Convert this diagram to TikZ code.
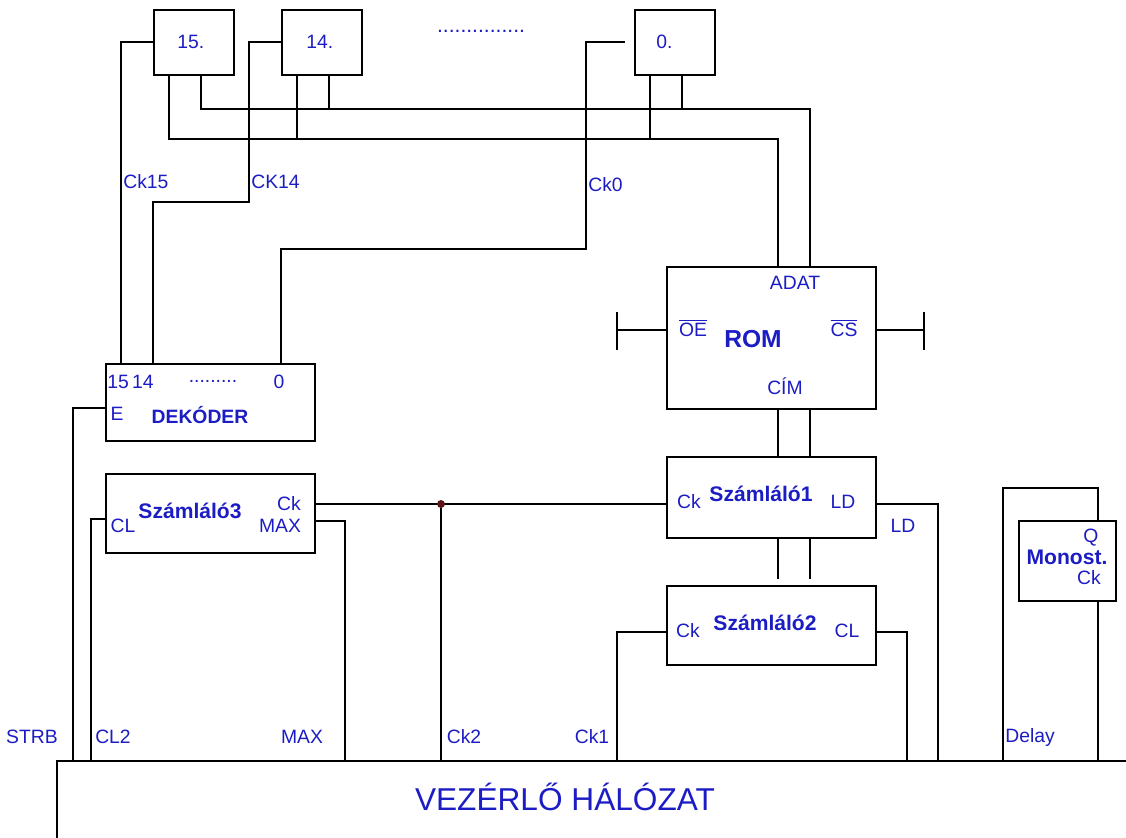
\documentclass[tikz,border=0pt]{standalone}
\usepackage{fontspec}
\setmainfont{Liberation Sans}
\usetikzlibrary{calc}
\definecolor{sigblue}{RGB}{28,28,196}
\definecolor{junct}{RGB}{90,20,20}
\tikzset{
  blkbox/.style={draw=black, line width=1pt, anchor=north west, inner sep=0pt},
  regbox/.style={blkbox, minimum width=1.6cm, minimum height=1.3cm},
  widebox/.style={blkbox, minimum width=4.18cm},
  wire/.style={line width=1pt},
  pinlbl/.style={text=sigblue, font=\fontsize{11}{12}\selectfont, inner sep=0pt},
  boxtitle/.style={text=sigblue, font=\bfseries\fontsize{12}{14}\selectfont, inner sep=0pt},
  dot/.style={circle, fill=junct, inner sep=1.6pt},
  smalldot/.style={circle, fill=black, inner sep=0.8pt}
}

\begin{document}
\begin{tikzpicture}[x=0.02cm, y=-0.02cm]
  \useasboundingbox (0,0) rectangle (1126,838);

  \node[regbox] (reg15) at (153,9) {};
  \node[regbox] (reg14) at (281,9) {};
  \node[regbox] (reg0) at (634,9) {};
  \node[pinlbl, anchor=west] (n15) at (177,42) {15.};
  \node[pinlbl, anchor=west] (n14) at (306,42) {14.};
  \node[pinlbl, anchor=west] (n0) at (656,42) {0.};
  \node[pinlbl, font=\fontsize{12}{12}\selectfont] (regdots) at (481,31) {...............};

  \node[widebox, minimum height=2.84cm] (rom) at (666,266) {};
  \node[pinlbl] (adat) at (795,283) {ADAT};
  \node[pinlbl] (oe) at (693,328) {$\overline{\mbox{OE}}$};
  \node[pinlbl] (cs) at (844,328) {$\overline{\mbox{CS}}$};
  \node[boxtitle, font=\bfseries\fontsize{14}{16}\selectfont] (romtxt) at (753,339) {ROM};
  \node[pinlbl] (cim) at (785,386) {CÍM};

  \node[widebox, minimum height=1.54cm] (dek) at (105,363) {};
  \node[pinlbl, anchor=west] (d1514) at (107,382) {15\,14};
  \node[pinlbl] (ddots) at (213,381) {.........};
  \node[pinlbl] (d0) at (279,382) {0};
  \node[pinlbl] (de) at (117,414) {E};
  \node[boxtitle, font=\bfseries\fontsize{11}{13}\selectfont] (dektxt) at (200,415) {DEKÓDER};

  \node[widebox, minimum height=1.58cm] (szam3) at (105,473) {};
  \node[boxtitle] (s3txt) at (190,511) {Számláló3};
  \node[pinlbl] (s3cklbl) at (289,504) {Ck};
  \node[pinlbl] (s3maxlbl) at (280,526) {MAX};
  \node[pinlbl] (s3cllbl) at (123,526) {CL};

  \node[widebox, minimum height=1.62cm] (szam1) at (666,456) {};
  \node[pinlbl] (s1cklbl) at (689,502) {Ck};
  \node[boxtitle] (s1txt) at (761,494) {Számláló1};
  \node[pinlbl] (s1ldlbl) at (843,502) {LD};

  \node[widebox, minimum height=1.58cm] (szam2) at (666,585) {};
  \node[pinlbl] (s2cklbl) at (688,631) {Ck};
  \node[boxtitle] (s2txt) at (765,623) {Számláló2};
  \node[pinlbl] (s2cllbl) at (847,631) {CL};

  \node[blkbox, minimum width=1.94cm, minimum height=1.6cm] (mono) at (1018,520) {};
  \node[pinlbl] (mq) at (1091,538) {Q};
  \node[boxtitle] (monotxt) at (1067,557) {Monost.};
  \node[pinlbl] (mck) at (1089,578) {Ck};

  \node[blkbox, minimum width=21.6cm, minimum height=1.76cm] (vez) at (56,760) {};
  \node[text=sigblue, font=\fontsize{18}{20}\selectfont, inner sep=0pt] (veztxt) at (565,797) {VEZÉRLŐ HÁLÓZAT};

  \coordinate (dk15) at ($(dek.north west)+(16,0)$);
  \coordinate (dk14) at ($(dek.north west)+(48,0)$);
  \coordinate (dk0) at ($(dek.north west)+(176,0)$);
  \coordinate (ck0end) at ($(reg0.west)+(-9,0)$);
  \draw[wire] (reg15.west) -| (dk15);
  \draw[wire] (reg14.west) -| (249,202) -| (dk14);
  \draw[wire] (ck0end) -| (586,249) -| (dk0);
  \node[pinlbl, anchor=west] (lck15) at (123,182) {Ck15};
  \node[pinlbl, anchor=west] (lck14) at (251,182) {CK14};
  \node[pinlbl, anchor=west] (lck0) at (588,185) {Ck0};

  \coordinate (romD0) at ($(rom.north west)+(112,0)$);
  \coordinate (romD1) at ($(rom.north west)+(144,0)$);
  \draw[wire] ($(reg15.south west)+(16,0)$) -- ++(0,63) -| (romD0);
  \draw[wire] ($(reg15.south west)+(48,0)$) -- ++(0,33) -| (romD1);
  \foreach \r in {reg14,reg0} {
    \draw[wire] ($(\r.south west)+(16,0)$) -- ++(0,63);
    \draw[wire] ($(\r.south west)+(48,0)$) -- ++(0,33);
  }
  \node[smalldot] (bdot) at ($(reg0.south west)+(16,33)$) {};

  \coordinate (romOE) at ($(rom.north west)+(0,64)$);
  \coordinate (romCS) at ($(rom.north east)+(0,64)$);
  \draw[wire] (romOE) -- ++(-49,0) coordinate (oeT);
  \draw[wire] ($(oeT)+(0,-18)$) -- ($(oeT)+(0,20)$);
  \draw[wire] (romCS) -- ++(47,0) coordinate (csT);
  \draw[wire] ($(csT)+(0,-18)$) -- ($(csT)+(0,20)$);
  \draw[wire] ($(rom.south west)+(112,0)$) -- ($(szam1.north west)+(112,0)$);
  \draw[wire] ($(rom.south west)+(144,0)$) -- ($(szam1.north west)+(144,0)$);
  \draw[wire] ($(szam1.south west)+(112,0)$) -- ++(0,40);
  \draw[wire] ($(szam1.south west)+(144,0)$) -- ++(0,40);

  \coordinate (bstrb) at (73,760);
  \coordinate (bcl2) at (91,760);
  \coordinate (bmax) at (345,760);
  \coordinate (bck2) at (441,760);
  \coordinate (bck1) at (617,760);
  \coordinate (bcl) at (907,760);
  \coordinate (bld) at (938,760);
  \coordinate (bdelay) at (1003,760);
  \coordinate (bmck) at (1098,760);

  \coordinate (dke) at ($(dek.north west)+(0,45)$);
  \coordinate (s3cl) at ($(szam3.north west)+(0,46)$);
  \coordinate (s3ck) at ($(szam3.north east)+(0,31)$);
  \coordinate (s3max) at ($(szam3.north east)+(0,48)$);
  \coordinate (s1ck) at ($(szam1.north west)+(0,48)$);
  \coordinate (s1ld) at ($(szam1.north east)+(0,48)$);
  \coordinate (s2ck) at ($(szam2.north west)+(0,47)$);
  \coordinate (s2cl) at ($(szam2.north east)+(0,47)$);
  \coordinate (monoQ) at ($(mono.north west)+(80,0)$);
  \coordinate (monoCk) at ($(mono.south west)+(80,0)$);

  \draw[wire] (dke) -| (bstrb);
  \draw[wire] (s3cl) -| (bcl2);
  \draw[wire] (s3max) -| (bmax);
  \draw[wire] (s3ck) -- (s1ck);
  \node[dot] (ckj) at (441,504) {};
  \draw[wire] (ckj) -- (bck2);
  \draw[wire] (s2ck) -| (bck1);
  \draw[wire] (s2cl) -| (bcl);
  \draw[wire] (s1ld) -| (bld);
  \draw[wire] (monoQ) -- ++(0,-32) -| (bdelay);
  \draw[wire] (monoCk) -- (bmck);

  \node[pinlbl] (lld) at (903,526) {LD};
  \node[pinlbl] (lstrb) at (32,737) {STRB};
  \node[pinlbl] (lcl2) at (113,737) {CL2};
  \node[pinlbl] (lmax) at (302,737) {MAX};
  \node[pinlbl] (lck2) at (464,737) {Ck2};
  \node[pinlbl] (lck1) at (592,737) {Ck1};
  \node[pinlbl, anchor=west] (ldelay) at (1005,737) {Delay};
\end{tikzpicture}
\end{document}
